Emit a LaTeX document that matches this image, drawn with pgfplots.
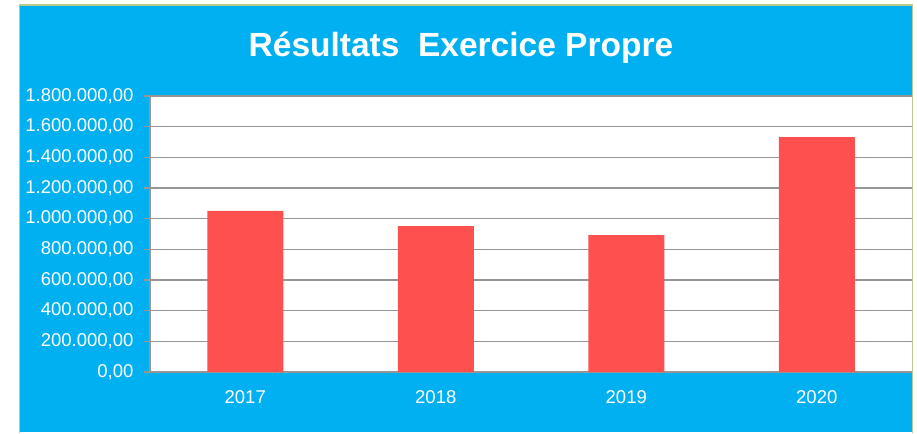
\documentclass[border=0pt]{standalone}
\usepackage{fontspec}
\setmainfont{Liberation Sans}
\usepackage{pgfplots}
\pgfplotsset{compat=1.18}
\definecolor{bgblue}{HTML}{00B0F0}
\definecolor{barred}{HTML}{FF5050}
\definecolor{gridgray}{HTML}{969696}
\definecolor{framegreen}{HTML}{B7CC8C}

\begin{document}
\begin{tikzpicture}[x=1pt,y=1pt]
% chart area
\fill[white] (0,0) rectangle (917,432);
\fill[bgblue] (19.5,0) rectangle (912.5,427);
\draw[framegreen, line width=1.2pt] (19.5,-1) -- (19.5,427) -- (912.5,427) -- (912.5,-1);
\node[white, font=\bfseries\fontsize{33.5}{40}\selectfont] at (461,384) {Résultats\ \ Exercice Propre};

\begin{axis}[
    at={(150pt,60pt)}, anchor=south west,
    scale only axis,
    width=762pt, height=276pt,
    axis background/.style={fill=white},
    axis x line*=bottom, axis y line*=left,
    axis line style={gridgray, line width=1.2pt},
    xmin=-0.5, xmax=3.5,
    ymin=0, ymax=1800000,
    xtick={0,1,2,3},
    xticklabels={2017,2018,2019,2020},
    minor xtick={-0.5,0.5,1.5,2.5,3.5},
    xtick style={draw=none},
    minor x tick style={gridgray, line width=1.2pt},
    ytick distance=200000,
    ytick style={gridgray, line width=1.2pt},
    tick align=outside,
    major tick length=6pt, minor tick length=6pt,
    ymajorgrids,
    grid style={gridgray, line width=1.2pt},
    scaled y ticks=false,
    tick label style={white, font=\fontsize{18.5}{22}\selectfont},
    xticklabel style={yshift=-9pt},
    yticklabel style={xshift=-7pt, /pgf/number format/.cd, fixed, fixed zerofill, precision=2,
        use comma, 1000 sep={.}, assume math mode=true},
    ybar, bar width=76pt,
]
\addplot[fill=barred, draw=none] coordinates {
    (0, 1050000)
    (1, 952000)
    (2, 893000)
    (3, 1532000)
};
\end{axis}
\end{tikzpicture}
\end{document}
